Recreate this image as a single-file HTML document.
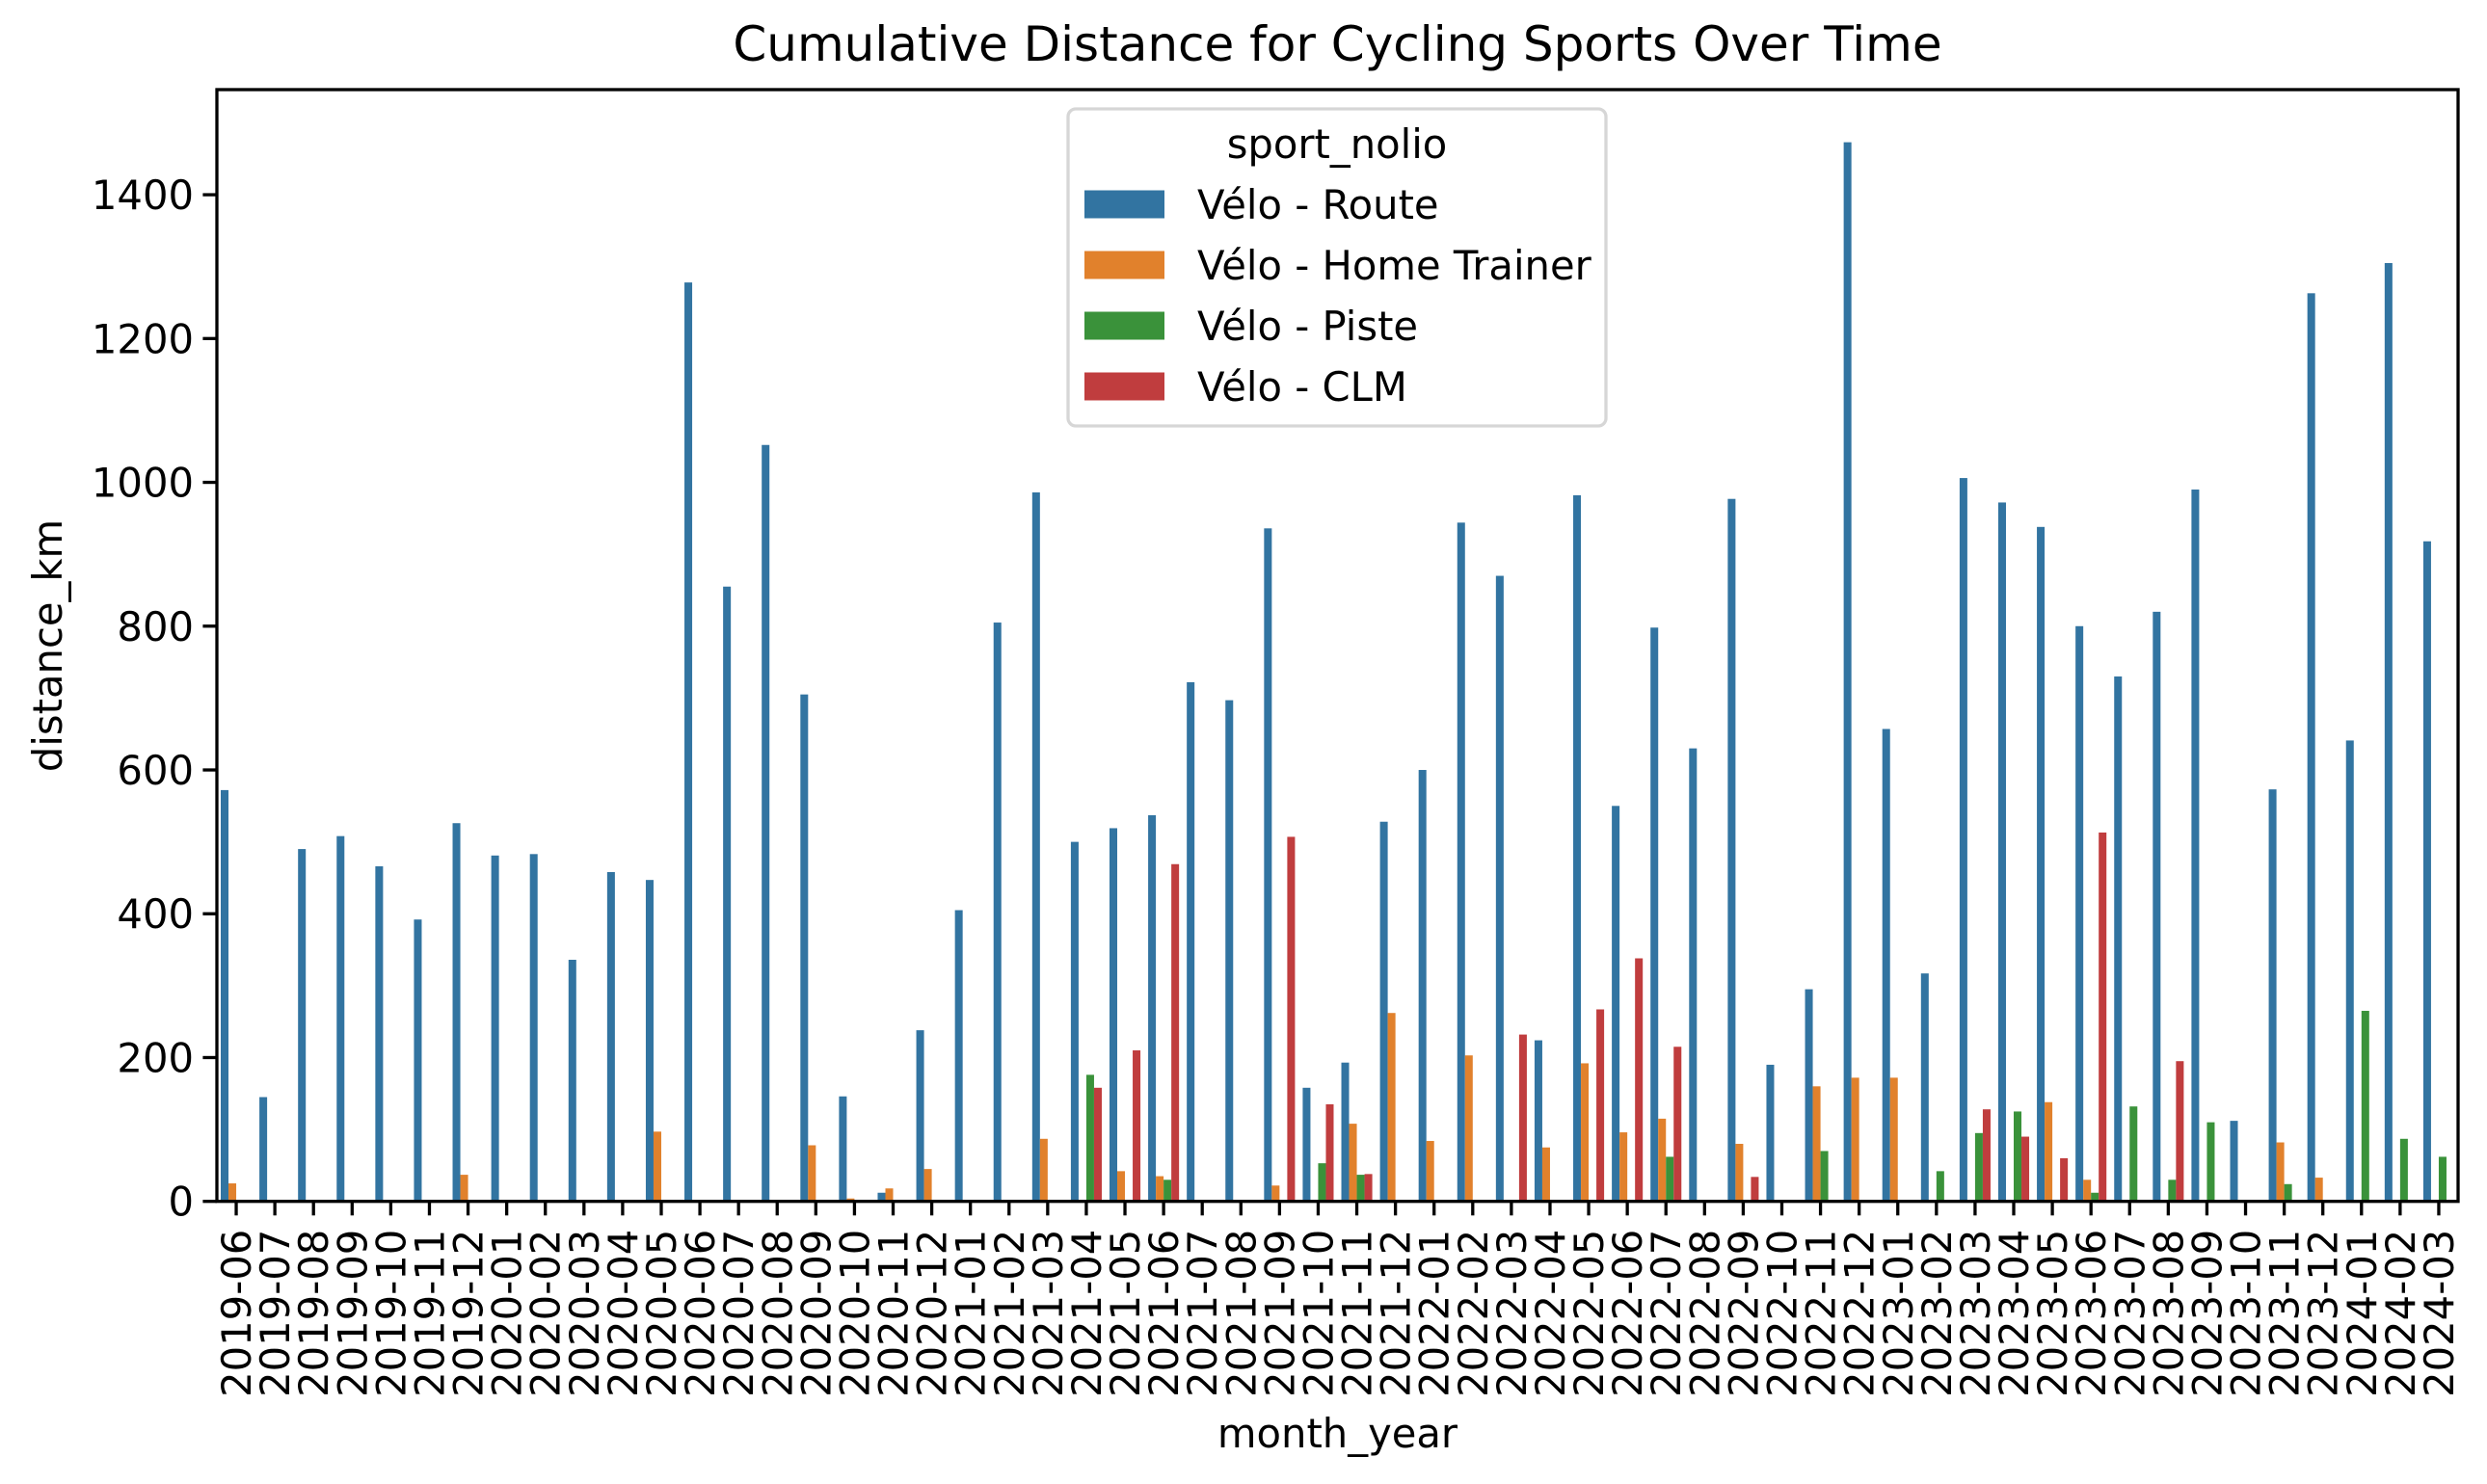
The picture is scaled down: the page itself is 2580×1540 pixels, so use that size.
<!DOCTYPE html>
<html><head><meta charset="utf-8"><style>
html,body{margin:0;padding:0;background:#fff;}
svg{display:block;font-family:"DejaVu Sans","Liberation Sans",sans-serif;}
</style></head><body>
<svg id="chart" width="2580" height="1540" viewBox="0 0 2580 1540" xmlns="http://www.w3.org/2000/svg">
<rect x="0" y="0" width="2580" height="1540" fill="#fff"/>
<text x="1387.5" y="63" font-size="50" text-anchor="middle">Cumulative Distance for Cycling Sports Over Time</text>
<g id="bars"></g>
<g id="xticks"></g>
<g id="yticks"></g>
<rect x="225" y="93" width="2325" height="1153.7" fill="none" stroke="#000" stroke-width="3.3"/>
<text x="1387.5" y="1502" font-size="41.7" text-anchor="middle">month_year</text>
<text transform="translate(64,670) rotate(-90)" font-size="41.7" text-anchor="middle">distance_km</text>
<g>
<rect x="1108" y="113" width="558" height="329" rx="8" fill="#fff" fill-opacity="0.8" stroke="#d6d6d6" stroke-width="3.3"/>
<text x="1387" y="164" font-size="41.7" text-anchor="middle">sport_nolio</text>
<g id="legendItems"></g>
</g>
</svg>
<script>
const categories = ["2019-06","2019-07","2019-08","2019-09","2019-10","2019-11","2019-12","2020-01","2020-02","2020-03","2020-04","2020-05","2020-06","2020-07","2020-08","2020-09","2020-10","2020-11","2020-12","2021-01","2021-02","2021-03","2021-04","2021-05","2021-06","2021-07","2021-08","2021-09","2021-10","2021-11","2021-12","2022-01","2022-02","2022-03","2022-04","2022-05","2022-06","2022-07","2022-08","2022-09","2022-10","2022-11","2022-12","2023-01","2023-02","2023-03","2023-04","2023-05","2023-06","2023-07","2023-08","2023-09","2023-10","2023-11","2023-12","2024-01","2024-02","2024-03"];
const seriesNames = ["Vélo - Route","Vélo - Home Trainer","Vélo - Piste","Vélo - CLM"];
const route = [572,145,490,508,466,392,526,481,483,336,458,447,1278,855,1052,705,146,12,238,405,805,986,500,519,537,722,697,936,158,193,528,600,944,870,224,982,550,798,630,977,190,295,1473,657,317,1006,972,938,800,730,820,990,112,573,1263,641,1305,918];
const homeTrainer = [25,null,null,null,null,null,37,null,null,null,null,97,null,null,null,78,4,18,45,null,null,87,null,42,35,null,null,22,null,108,262,84,203,null,75,192,96,115,null,80,null,160,172,172,null,null,null,138,30,null,null,null,null,82,33,null,null,null];
const piste = [null,null,null,null,null,null,null,null,null,null,null,null,null,null,null,null,null,null,null,null,null,null,176,null,30,null,null,null,53,37,null,null,null,null,null,null,null,62,null,null,null,70,null,null,42,95,125,null,12,132,30,110,null,24,null,265,87,62];
const clm = [null,null,null,null,null,null,null,null,null,null,null,null,null,null,null,null,null,null,null,null,null,null,158,210,469,null,null,507,135,38,null,null,null,232,null,267,338,215,null,34,null,null,null,null,null,128,90,60,513,null,195,null,null,null,null,null,null,null];
const yTickValues = [0,200,400,600,800,1000,1200,1400];

const colors = ["#3274a1","#e1812c","#3a923a","#c03d3e"];
const series = [route, homeTrainer, piste, clm];
const NS = "http://www.w3.org/2000/svg";
const L=225,R=2550,T=93,B=1246.7,YMAX=1546.2;
const xScale = v => L + (v + 0.5) * (R - L) / categories.length;
const yScale = v => B - v * (B - T) / YMAX;
function mk(tag, attrs, parent){const e=document.createElementNS(NS,tag);for(const k in attrs)e.setAttribute(k,attrs[k]);parent.appendChild(e);return e;}

const gb=document.getElementById('bars');
series.forEach((arr,s)=>{
  arr.forEach((v,i)=>{
    if(v===null) return;
    const x0=xScale(i-0.4+0.2*s), x1=xScale(i-0.2+0.2*s);
    const r=mk('rect',{x:x0,y:yScale(v),width:x1-x0,height:yScale(0)-yScale(v),fill:colors[s]},gb);
    
    
  });
});
const gx=document.getElementById('xticks');
categories.forEach((c,i)=>{
  const x=xScale(i);
  const l=mk('line',{x1:x,x2:x,y1:B,y2:B+14.6,stroke:'#000','stroke-width':3.3},gx);
  
  
  const t=mk('text',{transform:`translate(${x+15},${B+29}) rotate(-90)`,'font-size':41.7,'text-anchor':'end'},gx);
  t.textContent=c;
  
  
});
const gy=document.getElementById('yticks');
yTickValues.forEach(v=>{
  const y=yScale(v);
  const l=mk('line',{x1:L-14.6,x2:L,y1:y,y2:y,stroke:'#000','stroke-width':3.3},gy);
  
  
  const t=mk('text',{x:L-24,y:y+15,'font-size':41.7,'text-anchor':'end'},gy);
  t.textContent=v;
  
  
});
const gl=document.getElementById('legendItems');
seriesNames.forEach((n,s)=>{
  const cy=212+63*s;
  const p=mk('rect',{x:1125,y:cy-14.5,width:83,height:29,fill:colors[s]},gl);
  
  
  const t=mk('text',{x:1242,y:cy+15,'font-size':41.7},gl);
  t.textContent=n;
  
  
});
</script>
</body></html>
